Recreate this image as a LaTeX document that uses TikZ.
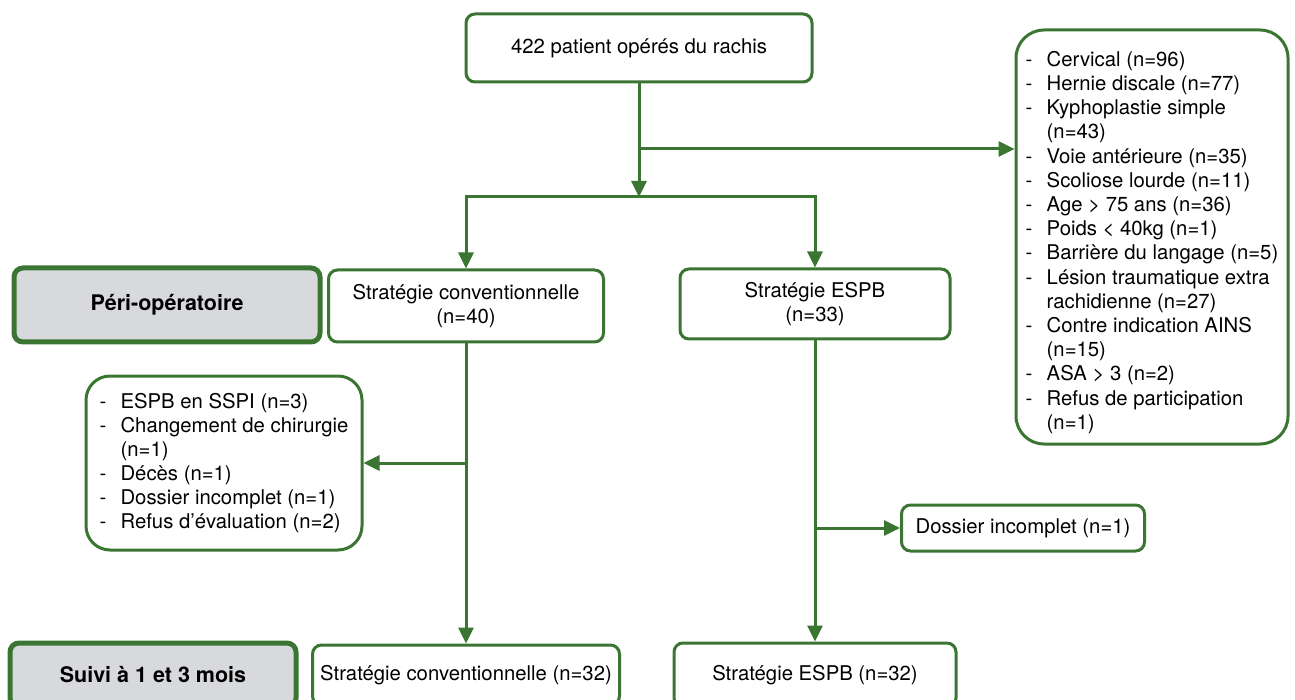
\documentclass[tikz,border=0pt]{standalone}
\usepackage{fontspec}
\setmainfont{TeX Gyre Heros}
\usetikzlibrary{arrows.meta}
\definecolor{flowgreen}{RGB}{58,118,50}
\definecolor{phasegray}{RGB}{216,217,220}
\newcommand{\itm}{\makebox[21pt][l]{-}}
\newcommand{\cnt}{\hspace*{21pt}}

\begin{document}
\begin{tikzpicture}[x=1pt,y=-1pt,
    every node/.style={font=\fontsize{20.3}{24}\selectfont},
    box/.style={draw=flowgreen,line width=3pt,rounded corners=9pt,fill=white,align=center,inner sep=0pt},
    listbox/.style={box,rounded corners=28pt,align=left},
    phase/.style={box,fill=phasegray,line width=5pt,font=\fontsize{21.5}{26}\selectfont\bfseries},
    arr/.style={draw=flowgreen,line width=3pt,-{Triangle[length=16pt,width=15pt]}}]
				% the frame of the picture
				\clip (0,0) rectangle (1295,700);
				% phases
				\node[phase,minimum width=306,minimum height=74] (peri) at (167,305) {Péri-opératoire};
				\node[phase,minimum width=286,minimum height=64] (suivi) at (153,675) {Suivi à 1 et 3 mois};
				% main flow
				\node[box,minimum width=346,minimum height=68] (top) at (639,48) {422 patient opérés du rachis};
				\node[box,minimum width=275,minimum height=72] (conv) at (466,306) {Stratégie conventionnelle\\(n=40)};
				\node[box,minimum width=270,minimum height=70] (espb) at (815,304) {Stratégie ESPB\\(n=33)};
				\node[box,minimum width=307,minimum height=60] (convB) at (466,675) {Stratégie conventionnelle (n=32)};
				\node[box,minimum width=282,minimum height=64] (espbB) at (815,675) {Stratégie ESPB (n=32)};
				% exclusions
				\node[listbox,minimum width=272,minimum height=414,font=\fontsize{20.3}{24.2}\selectfont] (excl) at (1152,237) {%
					\rule{0pt}{26pt}\itm Cervical (n=96)\\
					\itm Hernie discale (n=77)\\
					\itm Kyphoplastie simple\\
					\cnt (n=43)\\
					\itm Voie antérieure (n=35)\\
					\itm Scoliose lourde (n=11)\\
					\itm Age > 75 ans (n=36)\\
					\itm Poids < 40kg (n=1)\\
					\itm Barrière du langage (n=5)\\
					\itm Lésion traumatique extra\\
					\cnt rachidienne (n=27)\\
					\itm Contre indication AINS\\
					\cnt (n=15)\\
					\itm ASA > 3 (n=2)\\
					\itm Refus de participation\\
					\cnt (n=1)};
				\node[listbox,rounded corners=24pt,minimum width=276,minimum height=174] (lost) at (224,463) {%
					\itm ESPB en SSPI (n=3)\\
					\itm Changement de chirurgie\\
					\cnt (n=1)\\
					\itm Décès (n=1)\\
					\itm Dossier incomplet (n=1)\\
					\itm Refus d’évaluation (n=2)};
				\node[box,minimum width=243,minimum height=46] (dos) at (1023,528) {Dossier incomplet (n=1)};
				% branch points
				\coordinate (b1) at (639,149);
				\coordinate (split) at (639,197);
				\coordinate (c1) at (466,463);
				\coordinate (e1) at (815,528);
				% connectors
				\draw[arr] (top.south) -- (split);
				\draw[arr] (b1) -- (b1 -| excl.west);
				\draw[arr] (split) -| (conv.north);
				\draw[arr] (split) -| (espb.north);
				\draw[arr] (conv.south) -- (convB.north);
				\draw[arr] (espb.south) -- (espbB.north);
				\draw[arr] (c1) -- (lost.east);
				\draw[arr] (e1) -- (dos.west);
\end{tikzpicture}
\end{document}
